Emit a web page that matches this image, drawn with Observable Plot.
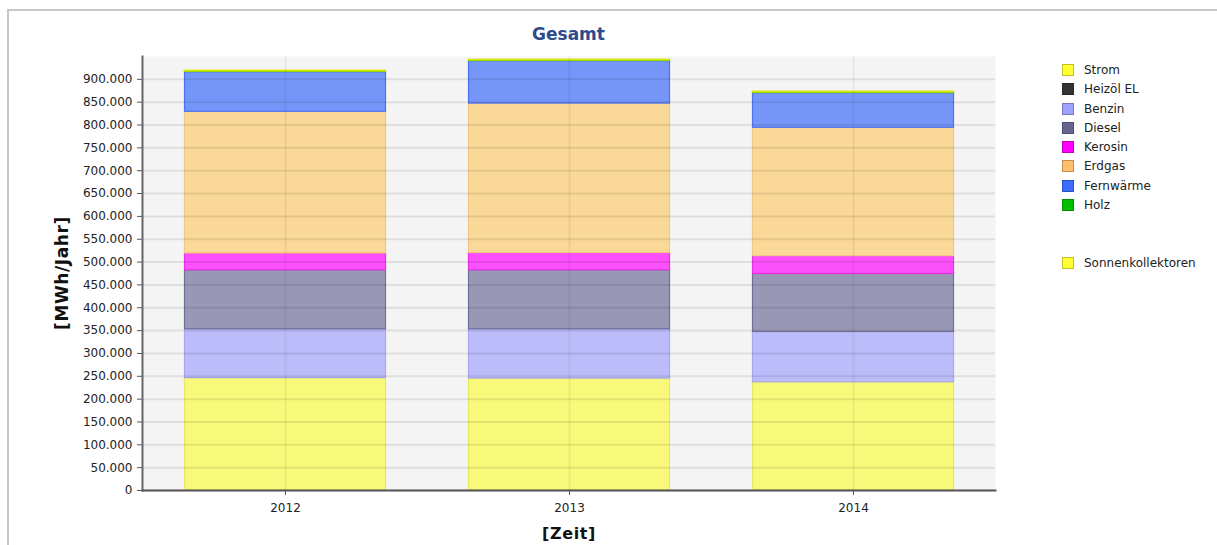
<!DOCTYPE html>
<html>
<head>
<meta charset="utf-8">
<script src="https://cdn.jsdelivr.net/npm/d3@7"></script>
<script src="https://cdn.jsdelivr.net/npm/@observablehq/plot@0.6"></script>
<style>
  body { margin: 0; background: #fff; }
  #wrap { position: relative; width: 1217px; height: 545px; overflow: hidden; background: #fff; font-family: "DejaVu Sans", sans-serif; }
  .abs { position: absolute; white-space: nowrap; }
  .leg { position: absolute; left: 1062px; font-size: 12px; color: #222; height: 14px; line-height: 14px; }
  .leg .sw { position: absolute; left: 0; top: 1px; width: 10px; height: 10px; border: 1px solid rgba(0,0,0,0.25); }
  .leg .lb { position: absolute; left: 22px; top: 0; white-space: nowrap; }
</style>
</head>
<body>
<div id="wrap">
  <div id="chart" class="abs" style="left:0;top:0"></div>
  <div class="abs" style="left:142px;width:853px;top:24px;text-align:center;font-weight:bold;font-size:17px;color:#2d4b8c">Gesamt</div>
  <div class="abs" style="left:62px;top:273px;transform:translate(-50%,-50%) rotate(-90deg);font-weight:bold;font-size:17px;color:#111;letter-spacing:0.6px">[MWh/Jahr]</div>
  <div class="abs" style="left:569px;top:533px;transform:translate(-50%,-50%);font-weight:bold;font-size:16px;color:#111;letter-spacing:0.6px">[Zeit]</div>
  <div id="legend"></div>
  <div class="abs" style="left:7px;top:9px;width:1300px;height:700px;border:2px solid #c8c8c8;pointer-events:none"></div>
</div>
<script>
// ---- data ----
const years = ["2012", "2013", "2014"];
const seriesNames = ["Strom", "Heizöl EL", "Benzin", "Diesel", "Kerosin", "Erdgas", "Fernwärme", "Holz", "Sonnenkollektoren"];
const strom      = [246000, 245000, 237000];
const heizoel    = [0, 0, 0];
const benzin     = [107000, 108000, 110000];
const diesel     = [129000, 129000, 127000];
const kerosin    = [37000, 38000, 39000];
const erdgas     = [310000, 327000, 281000];
const fernwaerme = [87000, 93000, 76000];
const holz       = [1000, 1000, 1000];
const sonnen     = [2000, 2000, 2000];
const yTicks = [0, 50000, 100000, 150000, 200000, 250000, 300000, 350000, 400000, 450000, 500000,
                550000, 600000, 650000, 700000, 750000, 800000, 850000, 900000];

// colours: bar fills (as seen, translucent look), bar edges, legend swatches
const barFill   = ["#f8f87a", "#8a8a8a", "#bcbcfa", "#9898b6", "#fd50fd", "#f9d898", "#7596f8", "#5cd05c", "#eef04a"];
const barStroke = ["#e8e860", "#333333", "#a8a8f0", "#70709a", "#e830e8", "#f2c880", "#4a74f0", "#00b000", "#d8e800"];
const legColor  = ["#ffff33", "#333333", "#a0a0ff", "#66668f", "#ff00ff", "#ffbf6f", "#3d6dff", "#00c000", "#ffff33"];

const valuesBySeries = [strom, heizoel, benzin, diesel, kerosin, erdgas, fernwaerme, holz, sonnen];
const rows = [];
seriesNames.forEach((s, si) => years.forEach((y, yi) => rows.push({year: y, series: s, value: valuesBySeries[si][yi]})));

const loc = d3.formatLocale({decimal: ",", thousands: ".", grouping: [3], currency: ["", "€"]});
const fmt = loc.format(",d");

const chart = Plot.plot({
  width: 1000,
  height: 545,
  marginLeft: 142,
  marginRight: 5,
  marginTop: 56,
  marginBottom: 55,
  style: {background: "transparent", fontFamily: "DejaVu Sans, sans-serif", fontSize: "12px", color: "#222"},
  x: {domain: years, paddingInner: 0.29, paddingOuter: 0.145, label: null},
  y: {domain: [0, 950000], label: null},
  color: {domain: seriesNames, range: barFill},
  marks: [
    Plot.frame({fill: "#f4f4f4", stroke: null}),
    Plot.barY(rows, {x: "year", y: "value", fill: "series", order: seriesNames,
      stroke: d => barStroke[seriesNames.indexOf(d.series)], strokeWidth: 1.2, insetLeft: 0.5, insetRight: 0.5}),
    Plot.gridY(yTicks, {stroke: "#000", strokeOpacity: 0.085, strokeWidth: 2}),
    Plot.gridX(years, {stroke: "#000", strokeOpacity: 0.05, strokeWidth: 2}),
    Plot.axisY(yTicks, {tickFormat: fmt, tickSize: 5, tickPadding: 5, fontSize: 12, stroke: "#555", label: null}),
    Plot.axisX(years, {tickSize: 5, tickPadding: 8, fontSize: 12, stroke: "#555", label: null}),
    Plot.frame({anchor: "left", stroke: "#666", strokeWidth: 2}),
    Plot.frame({anchor: "bottom", stroke: "#555", strokeWidth: 2})
  ]
});
document.getElementById("chart").appendChild(chart);

// legend
const legTops = [70, 89, 109, 128, 147, 166, 186, 205, 263];
const leg = document.getElementById("legend");
seriesNames.forEach((s, i) => {
  const d = document.createElement("div");
  d.className = "leg";
  d.style.top = (legTops[i] - 7) + "px";
  d.innerHTML = `<span class="sw" style="background:${legColor[i]}"></span><span class="lb">${s}</span>`;
  leg.appendChild(d);
});
</script>
</body>
</html>
